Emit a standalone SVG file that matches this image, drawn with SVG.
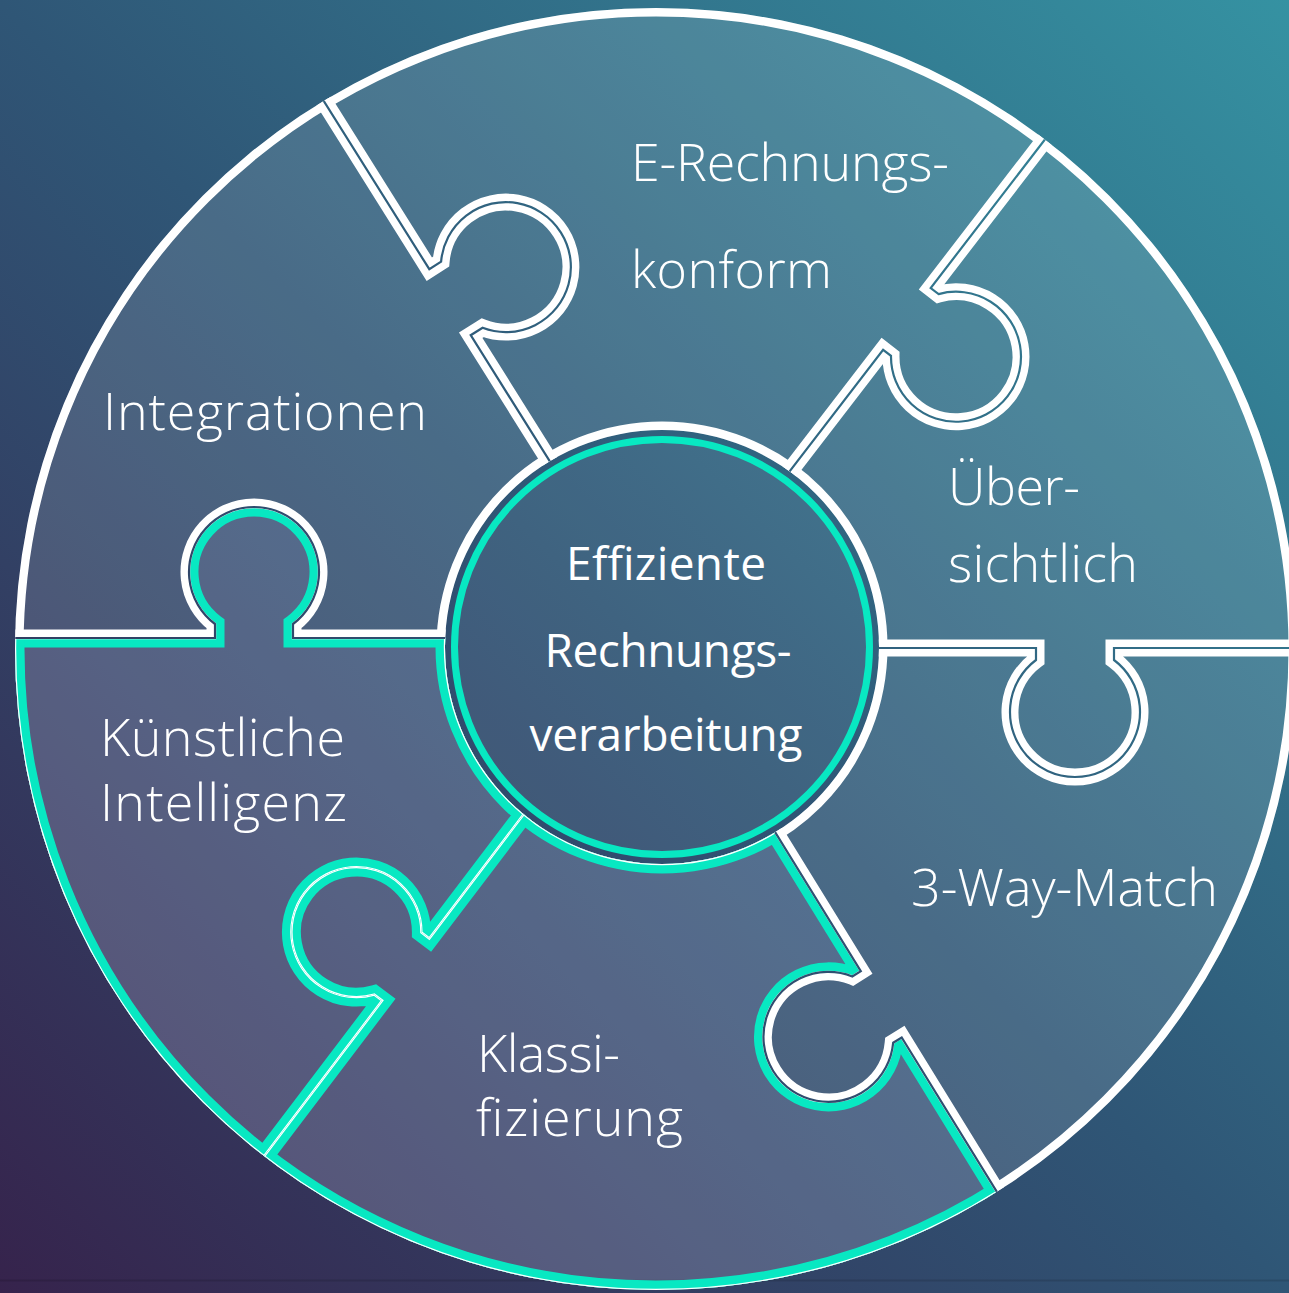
<svg xmlns="http://www.w3.org/2000/svg" xmlns:xlink="http://www.w3.org/1999/xlink" width="1289" height="1293" viewBox="0 0 1289 1293">
<style>
.lbl{font-family:"Open Sans","Noto Sans","Liberation Sans",sans-serif;font-weight:300;font-size:52px;fill:#ffffff}
.hub{font-family:"Open Sans","Noto Sans","Liberation Sans",sans-serif;font-weight:500;font-size:46px;fill:#ffffff;text-anchor:middle}
.wstroke{fill:none;stroke:#ffffff;stroke-width:17}
.tstroke{fill:none;stroke:#08e8c2;stroke-width:19}
.tedge{fill:none;stroke:#ffffff;stroke-width:2.4}
.gap{fill:none;stroke:url(#bg);stroke-width:2.2}
.fillN{fill:#ffffff;fill-opacity:0.13}
.fillH{fill:#e6e8ff;fill-opacity:0.2}
</style>
<defs>
<linearGradient id="bg" gradientUnits="userSpaceOnUse" x1="0" y1="1293" x2="1289" y2="0">
<stop offset="0" stop-color="#36234c"/>
<stop offset="0.5" stop-color="#2f5676"/>
<stop offset="1" stop-color="#3592a2"/>
</linearGradient>
<path id="b1" d="M 591.5 527.8 L 470.7 335.2 L 482.6 327.8 A 65 65 0 1 0 441.1 261.7 L 429.3 269.2 L 17.5 -387.1"/>
<path id="b2" d="M 744.2 530.4 L 883.1 349.8 L 891.0 355.9 A 65 65 0 1 0 938.6 294.1 L 930.7 288.0 L 1402.7 -325.7"/>
<path id="b3" d="M 807 648 L 1036 648 L 1036 660 A 65 65 0 1 0 1114 660 L 1114 648 L 1887 648"/>
<path id="b4" d="M 738.0 771.9 L 860.8 971.1 L 852.3 976.4 A 65 65 0 1 0 893.2 1042.7 L 901.7 1037.5 L 1304.7 1691.4"/>
<path id="b5" d="M 565.4 759.3 L 429.3 938.5 L 421.4 932.5 A 65 65 0 1 0 374.2 994.6 L 382.2 1000.6 L -87.6 1619.5"/>
<path id="b6" d="M 520 638 L 293 638 L 293 624 A 65 65 0 1 0 215 624 L 215 638 L -560 638"/>
<circle id="outerC" cx="656" cy="649" r="641"/>
<circle id="innerC" cx="662" cy="647" r="217"/>
<path id="wE" d="M 591.5 527.8 L 470.7 335.2 L 482.6 327.8 A 65 65 0 1 0 441.1 261.7 L 429.3 269.2 L 17.5 -387.1 L 760.7 -1348.3 L 1402.7 -325.7 L 930.7 288.0 L 938.6 294.1 A 65 65 0 1 1 891.0 355.9 L 883.1 349.8 L 744.2 530.4 Z"/>
<path id="wU" d="M 744.2 530.4 L 883.1 349.8 L 891.0 355.9 A 65 65 0 1 0 938.6 294.1 L 930.7 288.0 L 1402.7 -325.7 L 2445.9 -243.4 L 1887 648 L 1114 648 L 1114 660 A 65 65 0 1 1 1036 660 L 1036 648 L 807 648 Z"/>
<path id="w3" d="M 807 648 L 1036 648 L 1036 660 A 65 65 0 1 0 1114 660 L 1114 648 L 1887 648 L 2405.2 1618.6 L 1304.7 1691.4 L 901.7 1037.5 L 893.2 1042.7 A 65 65 0 1 1 852.3 976.4 L 860.8 971.1 L 738.0 771.9 Z"/>
<path id="wK" d="M 738.0 771.9 L 860.8 971.1 L 852.3 976.4 A 65 65 0 1 0 893.2 1042.7 L 901.7 1037.5 L 1304.7 1691.4 L 542.6 2645.8 L -87.6 1619.5 L 382.2 1000.6 L 374.2 994.6 A 65 65 0 1 1 421.4 932.5 L 429.3 938.5 L 565.4 759.3 Z"/>
<path id="wKI" d="M 565.4 759.3 L 429.3 938.5 L 421.4 932.5 A 65 65 0 1 0 374.2 994.6 L 382.2 1000.6 L -87.6 1619.5 L -1145.2 1518 L -560 638 L 215 638 L 215 624 A 65 65 0 1 1 293 624 L 293 638 L 520 638 Z"/>
<path id="wI" d="M 520 638 L 293 638 L 293 624 A 65 65 0 1 0 215 624 L 215 638 L -560 638 L -1084.7 -335.8 L 17.5 -387.1 L 429.3 269.2 L 441.1 261.7 A 65 65 0 1 1 482.6 327.8 L 470.7 335.2 L 591.5 527.8 Z"/>
<clipPath id="ann">
<path clip-rule="evenodd" d="M 1297 649 A 641 641 0 1 0 15 649 A 641 641 0 1 0 1297 649 Z M 879 647 A 217 217 0 1 0 445 647 A 217 217 0 1 0 879 647 Z"/>
</clipPath>
<clipPath id="cKI"><use xlink:href="#wKI"/></clipPath>
<clipPath id="cK"><use xlink:href="#wK"/></clipPath>
</defs>

<rect x="0" y="0" width="1289" height="1293" fill="url(#bg)"/>
<line x1="0" y1="1280.5" x2="1289" y2="1280.5" stroke="#000000" stroke-opacity="0.12" stroke-width="2"/>

<g id="piece-e-rechnung">
<use xlink:href="#wE" class="fillN" clip-path="url(#ann)"/>
<text class="lbl" x="631" y="181" textLength="318">E-Rechnungs-</text>
<text class="lbl" x="631" y="288" textLength="201">konform</text>
</g>
<g id="piece-uebersichtlich">
<use xlink:href="#wU" class="fillN" clip-path="url(#ann)"/>
<text class="lbl" x="948" y="505" textLength="132">Über-</text>
<text class="lbl" x="948" y="582" textLength="190">sichtlich</text>
</g>
<g id="piece-3way">
<use xlink:href="#w3" class="fillN" clip-path="url(#ann)"/>
<text class="lbl" x="911" y="906" textLength="307">3-Way-Match</text>
</g>
<g id="piece-klassifizierung">
<use xlink:href="#wK" class="fillH" clip-path="url(#ann)"/>
<text class="lbl" x="477" y="1072" textLength="143">Klassi-</text>
<text class="lbl" x="476" y="1136" textLength="207">fizierung</text>
</g>
<g id="piece-ki">
<use xlink:href="#wKI" class="fillH" clip-path="url(#ann)"/>
<text class="lbl" x="100" y="756" textLength="245">Künstliche</text>
<text class="lbl" x="100" y="821" textLength="247">Intelligenz</text>
</g>
<g id="piece-integrationen">
<use xlink:href="#wI" class="fillN" clip-path="url(#ann)"/>
<text class="lbl" x="103" y="430" textLength="324">Integrationen</text>
</g>

<g id="connectors" clip-path="url(#ann)">
<g class="wstroke">
<use xlink:href="#b1"/><use xlink:href="#b2"/><use xlink:href="#b3"/>
<use xlink:href="#b4"/><use xlink:href="#b5"/><use xlink:href="#b6"/>
<use xlink:href="#outerC"/><use xlink:href="#innerC"/>
</g>
<g clip-path="url(#cKI)">
<g class="tstroke"><use xlink:href="#b5"/><use xlink:href="#b6"/><use xlink:href="#outerC"/><use xlink:href="#innerC"/></g>
<g class="tedge"><use xlink:href="#b5"/><use xlink:href="#b6"/><use xlink:href="#outerC"/><use xlink:href="#innerC"/></g>
</g>
<g clip-path="url(#cK)">
<g class="tstroke"><use xlink:href="#b4"/><use xlink:href="#b5"/><use xlink:href="#outerC"/><use xlink:href="#innerC"/></g>
<g class="tedge"><use xlink:href="#b4"/><use xlink:href="#b5"/><use xlink:href="#outerC"/><use xlink:href="#innerC"/></g>
</g>
<g class="gap">
<use xlink:href="#b1"/><use xlink:href="#b2"/><use xlink:href="#b3"/><use xlink:href="#b4"/><use xlink:href="#b6"/>
</g>
</g>

<g id="hub">
<circle cx="662" cy="647" r="207.5" fill="#ffffff" fill-opacity="0.08" stroke="#08e8c2" stroke-width="7"/>
<text class="hub" x="666" y="580" textLength="200">Effiziente</text>
<text class="hub" x="668" y="667" textLength="247">Rechnungs-</text>
<text class="hub" x="666" y="751" textLength="273">verarbeitung</text>
</g>
</svg>
